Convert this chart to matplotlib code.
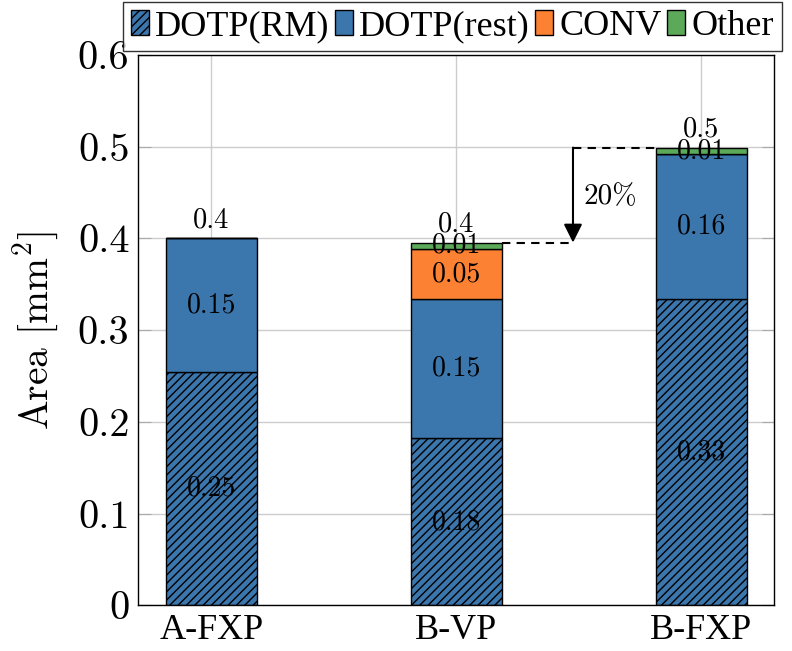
import numpy as np
import matplotlib
matplotlib.use('Agg')
import matplotlib.pyplot as plt

# area breakdown per design [mm^2]
categories = ['A-FXP', 'B-VP', 'B-FXP']
dotp_rm = [0.2545, 0.182, 0.334]
dotp_rest = [0.146, 0.152, 0.158]
conv = [0.0, 0.0545, 0.0]
other = [0.0, 0.007, 0.007]
series_names = ['DOTP(RM)', 'DOTP(rest)', 'CONV', 'Other']
yticks = [0, 0.1, 0.2, 0.3, 0.4, 0.5, 0.6]
ytick_labels = ['0', '0.1', '0.2', '0.3', '0.4', '0.5', '0.6']
saving_label = '20%'

plt.rcParams['font.family'] = 'serif'
plt.rcParams['font.serif'] = ['cmr10']
plt.rcParams['mathtext.fontset'] = 'cm'
plt.rcParams['axes.formatter.use_mathtext'] = True
plt.rcParams['hatch.linewidth'] = 1.0

def main():
	blue = '#3b76ad'
	orange = '#fd8132'
	green = '#5ca95a'
	times = 'Liberation Serif'

	fig = plt.figure(figsize=(7.92, 6.51), dpi=100)
	ax = fig.add_axes([0.1739, 0.0702, 0.8030, 0.8453])

	x = np.arange(len(categories))
	w = 0.37
	series = [dotp_rm, dotp_rest, conv, other]
	colors = [blue, blue, orange, green]
	hatches = ['////', None, None, None]
	bottom = np.zeros(len(categories))
	for vals, col, hat, name in zip(series, colors, hatches, series_names):
		vals = np.array(vals)
		ax.bar(x, vals, w, bottom=bottom, color=col, edgecolor='black', linewidth=1.0,
			hatch=hat, label=name, zorder=2)
		for i in range(len(x)):
			if vals[i] > 0:
				ax.text(x[i], bottom[i] + vals[i] / 2, '%.2f' % vals[i], ha='center', va='center',
					fontsize=20, zorder=4)
		bottom = bottom + vals

	totals = bottom
	for i in range(len(x)):
		ax.annotate('%.1f' % totals[i], (x[i], totals[i]), xytext=(0, 13), textcoords='offset points',
			ha='center', va='center', fontsize=20.5)

	# saving arrow between B-VP and B-FXP
	arrow_x = 1.476
	ax.plot([1 + w / 2, arrow_x], [totals[1], totals[1]], color='black', lw=1.5, dashes=(4, 3), zorder=3)
	ax.plot([arrow_x, 2 - w / 2], [totals[2], totals[2]], color='black', lw=1.5, dashes=(4, 3), zorder=3)
	ax.annotate('', xy=(arrow_x, totals[1]), xytext=(arrow_x, totals[2]),
		arrowprops=dict(arrowstyle='-|>', color='black', lw=1.5, mutation_scale=28, shrinkA=0, shrinkB=0))
	ax.text(1.63, 0.445, saving_label, ha='center', va='center', fontsize=21)

	ax.set_xlim(-0.30, 2.295)
	ax.set_ylim(0, 0.6)
	ax.set_yticks(yticks)
	ax.set_yticklabels(ytick_labels)
	ax.set_xticks(x)
	ax.set_xticklabels(categories, fontfamily=times, fontsize=26)
	ax.tick_params(axis='y', direction='in', length=9, color='#aaaaaa', right=True, labelsize=29, pad=6)
	ax.tick_params(axis='x', length=0, pad=6)
	ax.grid(True, color='#cccccc', lw=1.0)
	ax.set_axisbelow(True)
	for s in ax.spines.values():
		s.set_linewidth(1.0)
	ax.set_ylabel('Area [mm$^2$]', fontsize=28.5, labelpad=12)

	leg = ax.legend(loc='upper center', bbox_to_anchor=(0.5712, 0.9974), bbox_transform=fig.transFigure,
		ncol=4, prop={'family': times, 'size': 26}, frameon=True, fancybox=False, edgecolor='black',
		handlelength=0.5, handleheight=0.7, handletextpad=0.17, columnspacing=0.15,
		borderpad=0.22, borderaxespad=0.0)
	leg.get_frame().set_linewidth(1.0)

	fig.savefig('out.png', dpi=100)

if __name__ == '__main__':
	main()
